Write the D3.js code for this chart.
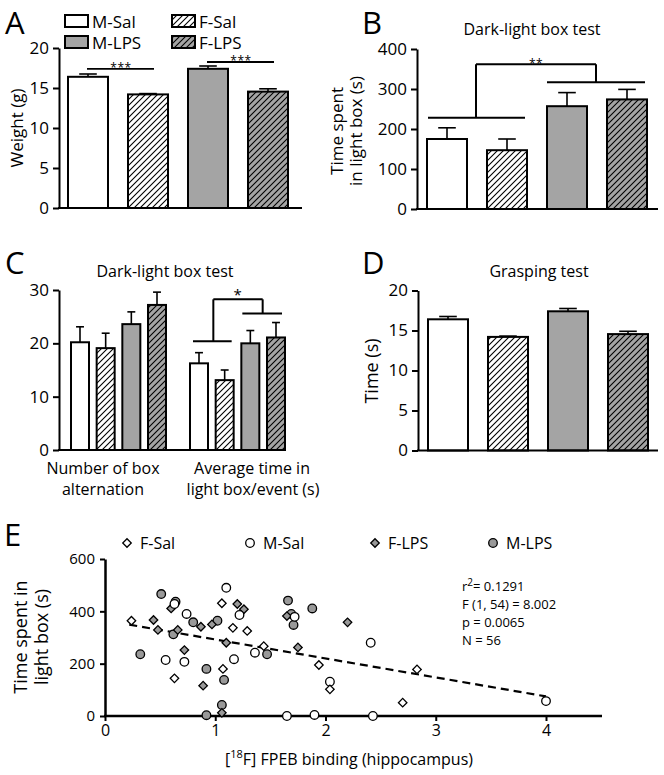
<!DOCTYPE html>
<html><head><meta charset="utf-8">
<script src="https://cdn.jsdelivr.net/npm/d3@7/dist/d3.min.js"></script>
<style>
body{margin:0;background:#fff;}
svg text{font-family:"Open Sans","Noto Sans",sans-serif;fill:#000;}
</style></head>
<body><svg id="c" width="664" height="775"></svg>
<script>
// ---------- DATA ----------
const groups = ["M-Sal", "F-Sal", "M-LPS", "F-LPS"];
const weightMean = [16.4, 14.2, 17.4, 14.55];
const weightErr  = [0.35, 0.1, 0.35, 0.35];
const lightMean  = [175, 147, 257, 274];
const lightErr   = [28, 28, 34, 25];
const altMean    = [20.2, 19.1, 23.6, 27.2];
const altErr     = [2.9, 2.8, 2.3, 2.4];
const avgMean    = [16.25, 13.1, 20.0, 21.1];
const avgErr     = [2.0, 1.9, 2.4, 2.8];
const graspMean  = [16.4, 14.2, 17.4, 14.55];
const graspErr   = [0.35, 0.1, 0.35, 0.35];
const cCategories = ["Number of box|alternation", "Average time in|light box/event (s)"];
const ticksA = [0, 5, 10, 15, 20];
const ticksB = [0, 100, 200, 300, 400];
const ticksC = [0, 10, 20, 30];
const ticksD = [0, 5, 10, 15, 20];
const ticksEy = [0, 200, 400, 600];
const ticksEx = [0, 1, 2, 3, 4];
// scatter (x = [18F] FPEB binding, y = time in light box)
const fSal = [[0.24,364],[0.63,144],[1.06,431],[1.07,180],[1.16,337],[1.29,325],[1.44,267],[1.94,195],[2.04,102],[2.83,178],[2.70,51]];
const mSal = [[0.63,428],[0.55,214],[0.74,390],[0.72,207],[1.17,217],[1.22,386],[1.36,242],[1.65,0],[1.10,490],[1.72,379],[2.41,280],[2.04,131],[1.90,4],[2.43,0],[4.0,57]];
const fLps = [[0.44,367],[0.48,329],[0.60,411],[0.66,329],[0.72,252],[0.87,341],[0.89,116],[0.97,350],[1.06,12],[1.10,280],[1.20,428],[1.26,408],[1.65,382],[1.75,262],[2.20,358]];
const mLps = [[0.32,236],[0.51,466],[0.64,437],[0.62,312],[0.80,358],[0.92,180],[0.92,3],[1.02,364],[1.08,138],[1.06,42],[1.47,236],[1.66,441],[1.69,390],[1.71,348],[1.88,411]];
const regLine = [[0.22, 349], [4.0, 75]];
const statsLines = ["r|2|= 0.1291", "F (1, 54) = 8.002", "p = 0.0065", "N = 56"];

// ---------- STYLE ----------
const GRAY = "#a4a4a4";
const svg = d3.select("#c");
const defs = svg.append("defs");
function hatch(id, bg) {
  const p = defs.append("pattern").attr("id", id).attr("patternUnits", "userSpaceOnUse")
    .attr("width", 6).attr("height", 6);
  p.append("rect").attr("width", 6).attr("height", 6).attr("fill", bg);
  p.append("path").attr("d", "M0,6 L6,0 M-1.5,1.5 L1.5,-1.5 M4.5,7.5 L7.5,4.5")
    .attr("stroke", "#000").attr("stroke-width", 1.1);
}
hatch("hW", "#fff");
hatch("hG", GRAY);
const fills = ["#fff", "url(#hW)", GRAY, "url(#hG)"];

function panelLetter(t, x, y) {
  svg.append("text").attr("x", x).attr("y", y).attr("font-size", 31).text(t);
}

function yAxis(x, y, ticks, fs) {
  const g = svg.append("g").attr("transform", `translate(${x},0)`)
    .call(d3.axisLeft(y).tickValues(ticks).tickSize(6).tickPadding(4).tickSizeOuter(0));
  g.select(".domain").attr("stroke-width", 2);
  g.selectAll(".tick line").attr("stroke-width", 2);
  g.selectAll(".tick text").attr("font-size", fs).style("font-family", '"Open Sans",sans-serif');
  return g;
}
function baseLine(x0, x1, y, w) {
  svg.append("line").attr("x1", x0 - 1).attr("x2", x1).attr("y1", y).attr("y2", y)
    .attr("stroke", "#000").attr("stroke-width", w || 2);
}
function bars(cx, bw, y, means, errs) {
  const g = svg.append("g");
  means.forEach((m, i) => {
    const xc = cx(i);
    g.append("line").attr("x1", xc).attr("x2", xc).attr("y1", y(m)).attr("y2", y(m + errs[i]))
      .attr("stroke", "#000").attr("stroke-width", 1.6);
    g.append("line").attr("x1", xc - bw * 0.22).attr("x2", xc + bw * 0.22)
      .attr("y1", y(m + errs[i])).attr("y2", y(m + errs[i]))
      .attr("stroke", "#000").attr("stroke-width", 1.6);
    g.append("rect").attr("x", xc - bw / 2).attr("width", bw)
      .attr("y", y(m)).attr("height", y(0) - y(m))
      .attr("fill", fills[i]).attr("stroke", "#000").attr("stroke-width", 2);
  });
}
function hline(x0, x1, yy, w) {
  svg.append("line").attr("x1", x0).attr("x2", x1).attr("y1", yy).attr("y2", yy)
    .attr("stroke", "#000").attr("stroke-width", w || 2);
}
function vline(x, y0, y1, w) {
  svg.append("line").attr("x1", x).attr("x2", x).attr("y1", y0).attr("y2", y1)
    .attr("stroke", "#000").attr("stroke-width", w || 2);
}
function stars(t, x, y, fs) {
  svg.append("text").attr("x", x).attr("y", y).attr("text-anchor", "middle")
    .attr("font-size", fs || 12).attr("letter-spacing", 0.5).text(t);
}

// ---------- PANEL A ----------
panelLetter("A", 5, 34);
{
  const lg = svg.append("g");
  groups.forEach((gname, i) => {
    const col = i % 2 === 0 ? 0 : 1, row = i < 2 ? 0 : 1;
    const lx = col === 0 ? 65 : 172, ly = row === 0 ? 15 : 36;
    lg.append("rect").attr("x", lx).attr("y", ly).attr("width", 23).attr("height", 12)
      .attr("fill", fills[i]).attr("stroke", "#000").attr("stroke-width", 2);
    lg.append("text").attr("x", lx + 27).attr("y", ly + 12.5).attr("font-size", 17).text(gname);
  });
  const y = d3.scaleLinear().domain([0, 20]).range([208, 48]);
  const x = d3.scalePoint().domain(d3.range(4)).range([88, 268]);
  yAxis(59, y, ticksA, 17);
  bars(x, 40, y, weightMean, weightErr);
  baseLine(59, 302, 208);
  hline(x(0) - 1, x(1) + 6, y(17.4), 1.8);
  stars("***", (x(0) + x(1)) / 2 + 3, y(17.4) + 3);
  hline(x(2) - 1, x(3) + 6, y(18.25), 1.8);
  stars("***", (x(2) + x(3)) / 2 + 3, y(18.25) + 3);
  svg.append("text").attr("transform", "translate(23,128) rotate(-90)")
    .attr("text-anchor", "middle").attr("font-size", 17).text("Weight (g)");
}

// ---------- PANEL B ----------
panelLetter("B", 362, 34);
{
  svg.append("text").attr("x", 532).attr("y", 35).attr("text-anchor", "middle")
    .attr("font-size", 16).text("Dark-light box test");
  const y = d3.scaleLinear().domain([0, 400]).range([209, 49]);
  const x = d3.scalePoint().domain(d3.range(4)).range([447, 627]);
  yAxis(417, y, ticksB, 17);
  bars(x, 40, y, lightMean, lightErr);
  baseLine(417, 658, 209);
  hline(x(0) - 19, x(1) + 18, y(228), 2);
  hline(x(2) - 20, x(3) + 18, y(317), 2);
  const m1 = (x(0) + x(1)) / 2 - 1, m2 = (x(2) + x(3)) / 2 - 1;
  vline(m1, y(228), y(362), 2);
  hline(m1, m2, y(362), 2);
  vline(m2, y(362), y(317), 2);
  stars("**", (m1 + m2) / 2, y(362) + 4);
  const t = svg.append("text").attr("transform", "translate(343,131) rotate(-90)")
    .attr("text-anchor", "middle").attr("font-size", 17);
  t.append("tspan").attr("x", 0).attr("dy", 0).text("Time spent");
  t.append("tspan").attr("x", 0).attr("dy", 19).text("in light box (s)");
}

// ---------- PANEL C ----------
panelLetter("C", 5, 274);
{
  svg.append("text").attr("x", 165).attr("y", 277).attr("text-anchor", "middle")
    .attr("font-size", 16).text("Dark-light box test");
  const y = d3.scaleLinear().domain([0, 30]).range([450, 290]);
  const gx = d3.scalePoint().domain(d3.range(2)).range([118.5, 237.5]);
  const inner = d3.scalePoint().domain(d3.range(4)).range([-38.5, 38.5]);
  yAxis(59, y, ticksC, 17);
  bars(i => gx(0) + inner(i), 18, y, altMean, altErr);
  bars(i => gx(1) + inner(i), 18, y, avgMean, avgErr);
  baseLine(59, 286, 450);
  const b = i => gx(1) + inner(i);
  hline(b(0) - 6, b(1) + 7, y(20.4), 2);
  hline(b(2) - 8, b(3) + 6, y(25.6), 2);
  const m1 = (b(0) + b(1)) / 2 + 1.5, m2 = (b(2) + b(3)) / 2 - 0.5;
  vline(m1, y(20.4), y(28.25), 2);
  hline(m1, m2, y(28.25), 2);
  vline(m2, y(28.25), y(25.6), 2);
  stars("*", (m1 + m2) / 2, y(28.25) + 1, 15);
  cCategories.forEach((c, i) => {
    const parts = c.split("|");
    const t = svg.append("text").attr("text-anchor", "middle").attr("font-size", 16)
      .attr("y", 474);
    t.append("tspan").attr("x", [103, 252][i]).attr("dy", 0).text(parts[0]);
    t.append("tspan").attr("x", [103, 253][i]).attr("dy", 21).text(parts[1]);
  });
}

// ---------- PANEL D ----------
panelLetter("D", 362, 274);
{
  svg.append("text").attr("x", 539).attr("y", 277).attr("text-anchor", "middle")
    .attr("font-size", 16).text("Grasping test");
  const y = d3.scaleLinear().domain([0, 20]).range([450.5, 290.5]);
  const x = d3.scalePoint().domain(d3.range(4)).range([448, 628]);
  yAxis(418, y, ticksD, 17);
  bars(x, 40, y, graspMean, graspErr);
  baseLine(418, 658, 450.5);
  svg.append("text").attr("transform", "translate(378,371) rotate(-90)")
    .attr("text-anchor", "middle").attr("font-size", 18).text("Time (s)");
}

// ---------- PANEL E ----------
panelLetter("E", 4, 546);
{
  const x = d3.scaleLinear().domain([0, 4]).range([105, 546]);
  const y = d3.scaleLinear().domain([0, 600]).range([716, 559]);
  const legendItems = [
    {name: "F-Sal", shape: "d", fill: "#fff", x: 127},
    {name: "M-Sal", shape: "c", fill: "#fff", x: 250},
    {name: "F-LPS", shape: "d", fill: "#999", x: 375},
    {name: "M-LPS", shape: "c", fill: "#999", x: 493}
  ];
  const diamond = d3.symbol().type(d3.symbolSquare).size(36);
  function mark(g, shape, fill, px, py) {
    if (shape === "c") {
      g.append("circle").attr("cx", px).attr("cy", py).attr("r", 4.3)
        .attr("fill", fill).attr("stroke", "#000").attr("stroke-width", 1.3);
    } else {
      g.append("path").attr("d", diamond())
        .attr("transform", `translate(${px},${py}) rotate(45)`)
        .attr("fill", fill).attr("stroke", "#000").attr("stroke-width", 1.3);
    }
  }
  const lg = svg.append("g");
  legendItems.forEach(it => {
    mark(lg, it.shape, it.fill, it.x, 543);
    lg.append("text").attr("x", it.x + 13).attr("y", 549).attr("font-size", 16).text(it.name);
  });
  const gy = svg.append("g").attr("transform", "translate(105,0)")
    .call(d3.axisLeft(y).tickValues(ticksEy).tickSize(5).tickPadding(5).tickSizeOuter(0));
  gy.select(".domain").attr("stroke-width", 2.5);
  gy.selectAll(".tick line").attr("stroke-width", 2);
  gy.selectAll(".tick text").attr("font-size", 15);
  const gx = svg.append("g").attr("transform", "translate(0,716)")
    .call(d3.axisBottom(x).tickValues(ticksEx).tickFormat(d3.format("d"))
      .tickSize(5).tickPadding(4).tickSizeOuter(0));
  gx.select(".domain").remove();
  gx.selectAll(".tick line").attr("stroke-width", 2);
  gx.selectAll(".tick text").attr("font-size", 16);
  baseLine(105, 602, 716, 2.5);
  svg.append("path").datum(regLine)
    .attr("d", d3.line().x(d => x(d[0])).y(d => y(d[1])))
    .attr("fill", "none").attr("stroke", "#000").attr("stroke-width", 2.2)
    .attr("stroke-dasharray", "8,5");
  const pg = svg.append("g");
  mLps.forEach(d => mark(pg, "c", "#999", x(d[0]), y(d[1])));
  fLps.forEach(d => mark(pg, "d", "#999", x(d[0]), y(d[1])));
  mSal.forEach(d => mark(pg, "c", "#fff", x(d[0]), y(d[1])));
  fSal.forEach(d => mark(pg, "d", "#fff", x(d[0]), y(d[1])));
  statsLines.forEach((s, i) => {
    const t = svg.append("text").attr("x", 462).attr("y", 591 + i * 18).attr("font-size", 13);
    if (s.indexOf("|") >= 0) {
      const p = s.split("|");
      t.append("tspan").text(p[0]);
      t.append("tspan").attr("dy", -5).attr("font-size", 10).text(p[1]);
      t.append("tspan").attr("dy", 5).text(p[2]);
    } else t.text(s);
  });
  const xl = svg.append("text").attr("x", 349).attr("y", 765).attr("text-anchor", "middle").attr("font-size", 16);
  xl.append("tspan").text("[");
  xl.append("tspan").attr("dy", -7).attr("font-size", 11).text("18");
  xl.append("tspan").attr("dy", 7).text("F] FPEB binding (hippocampus)");
  const yl = svg.append("text").attr("transform", "translate(27,637) rotate(-90)")
    .attr("text-anchor", "middle").attr("font-size", 18);
  yl.append("tspan").attr("x", 0).attr("dy", 0).text("Time spent in");
  yl.append("tspan").attr("x", 0).attr("dy", 21).text("light box (s)");
}
</script></body></html>
